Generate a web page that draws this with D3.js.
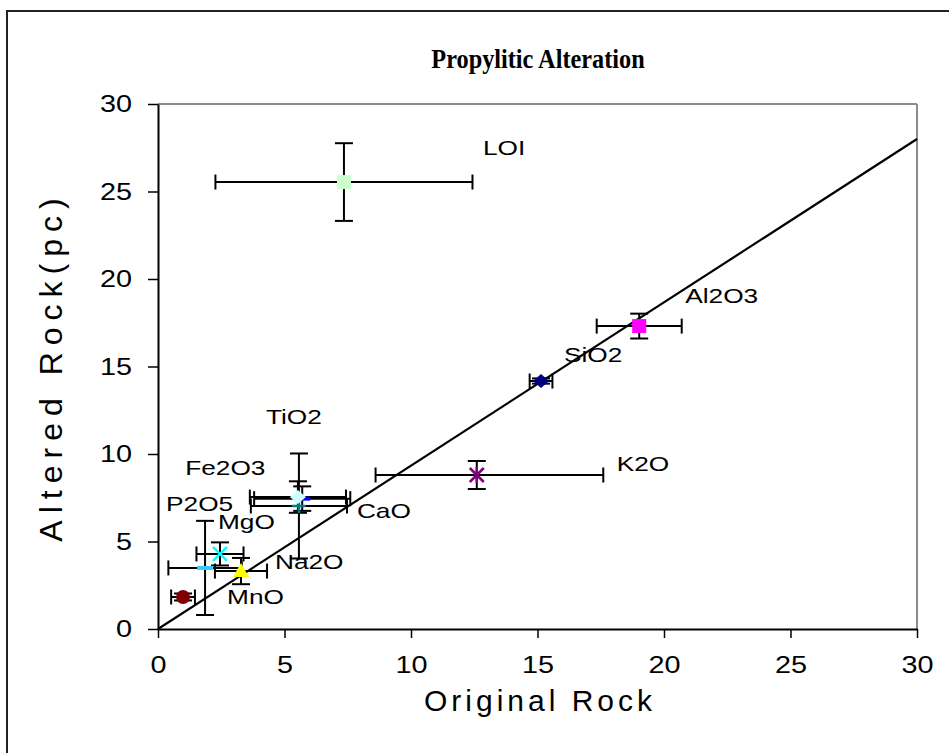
<!DOCTYPE html>
<html>
<head>
<meta charset="utf-8">
<style>
    body { margin: 0; background: #fff; }
    svg { display: block; }
    .tick text, .lbl {
        font-family: "Liberation Sans", Arial, sans-serif;
        fill: #000;
    }
    .stretch {
        transform-box: fill-box;
        transform: scaleX(1.2);
    }
    .y .tick text { transform-origin: right center; }
    .x .tick text { transform-origin: center center; }
    .lbl {
        transform-box: fill-box;
        transform-origin: left center;
        transform: scaleX(1.25);
    }
    .title {
        transform-box: fill-box;
        transform-origin: center center;
        transform: scaleX(0.9);
    }
</style>
</head>
<body>
<svg width="949" height="753"></svg>
<script src="https://d3js.org/d3.v7.min.js"></script>
<script>

// values (wt %)
const oxides    = ["SiO2", "Al2O3", "LOI", "K2O", "TiO2", "Fe2O3", "CaO", "P2O5", "MgO", "Na2O", "MnO"];
const original  = [15.14, 19.02, 7.35, 12.6, 5.57, 5.7, 5.53, 1.86, 2.45, 3.28, 0.99];
const altered   = [14.17, 17.31, 25.54, 8.8, 7.03, 7.45, 7.54, 3.49, 4.29, 3.31, 1.83];
const origErrLo = [0.45, 1.68, 5.08, 4.0, 1.9, 1.9, 1.9, 1.45, 0.93, 1.03, 0.47];
const origErrHi = [0.45, 1.68, 5.08, 5.0, 1.9, 1.9, 1.9, 1.45, 0.93, 1.03, 0.47];
const altErr    = [0.15, 0.71, 2.22, 0.8, 3.0, 0.7, 0.9, 2.69, 0.66, 0.75, 0.2];

// reference (isocon) line end points
const isoconX = [0, 30];
const isoconY = [0, 28];

const xTicks = [0, 5, 10, 15, 20, 25, 30];
const yTicks = [0, 5, 10, 15, 20, 25, 30];

// marker look for each oxide
const markerStyle = {
    SiO2:  { shape: "diamond",  color: "#000080" },
    Al2O3: { shape: "square",   color: "#ff00ff" },
    LOI:   { shape: "square",   color: "#ccffcc" },
    K2O:   { shape: "asterisk", color: "#800080" },
    TiO2:  { shape: "plus",     color: "#008080" },
    Fe2O3: { shape: "dash",     color: "#0000ff" },
    CaO:   { shape: "diamond",  color: "#ccffff" },
    P2O5:  { shape: "dash",     color: "#33ccff" },
    MgO:   { shape: "x",        color: "#00ffff" },
    Na2O:  { shape: "triangle", color: "#ffff00" },
    MnO:   { shape: "circle",   color: "#800000" }
};

// label offsets from the marker, px
const labelOffset = {
    SiO2: [23, -19], Al2O3: [46, -23], LOI: [139, -27], K2O: [140, -4],
    TiO2: [-33, -82], Fe2O3: [-117, -24], CaO: [59, 21], P2O5: [-39, -57],
    MgO: [-2, -25], Na2O: [34, -2], MnO: [44, 7]
};

const svg = d3.select("svg");

// outer frame (runs off the page right and bottom)
svg.append("rect")
    .attr("x", 7).attr("y", 11)
    .attr("width", 980).attr("height", 780)
    .style("fill", "none")
    .style("stroke", "#222")
    .style("stroke-width", 2);

const x = d3.scaleLinear().domain([0, 30]).range([158, 917]);
const y = d3.scaleLinear().domain([0, 30]).range([629, 104]);

// gray top and right plot borders
svg.append("line")
    .attr("x1", x(0)).attr("x2", x(30)).attr("y1", y(30)).attr("y2", y(30))
    .style("stroke", "#8c8c8c").style("stroke-width", 2);
svg.append("line")
    .attr("x1", x(30)).attr("x2", x(30)).attr("y1", y(30)).attr("y2", y(0))
    .style("stroke", "#8c8c8c").style("stroke-width", 2);

const xAxis = svg.append("g")
    .attr("class", "x axis")
    .attr("transform", `translate(0,${y(0)})`)
    .call(d3.axisBottom(x).tickValues(xTicks).tickSize(9).tickPadding(18).tickSizeOuter(0));

const yAxis = svg.append("g")
    .attr("class", "y axis")
    .attr("transform", `translate(${x(0)},0)`)
    .call(d3.axisLeft(y).tickValues(yTicks).tickSize(10).tickPadding(16).tickSizeOuter(0));

svg.selectAll(".axis .domain").style("stroke", "#000").style("stroke-width", 2);
svg.selectAll(".axis .tick line").style("stroke", "#000").style("stroke-width", 1.5);
svg.selectAll(".axis .tick text")
    .attr("class", "stretch")
    .style("font-size", "24px");

// isocon line
svg.append("line")
    .attr("x1", x(isoconX[0])).attr("y1", y(isoconY[0]))
    .attr("x2", x(isoconX[1])).attr("y2", y(isoconY[1]))
    .style("stroke", "#000")
    .style("stroke-width", 2.2);

const points = oxides.map((name, i) => ({
    name: name,
    ox: original[i],
    ay: altered[i],
    xlo: origErrLo[i],
    xhi: origErrHi[i],
    ye: altErr[i]
}));

// error bars
const capV = 7.5, capH = 9;
const bars = svg.append("g")
    .style("stroke", "#000")
    .style("stroke-width", 2)
    .style("fill", "none");

points.forEach(d => {
    let cy = y(d.ay), cx = x(d.ox);
    let x1 = x(d.ox - d.xlo), x2 = x(d.ox + d.xhi);
    bars.append("line").attr("x1", x1).attr("x2", x2).attr("y1", cy).attr("y2", cy);
    bars.append("line").attr("x1", x1).attr("x2", x1).attr("y1", cy - capV).attr("y2", cy + capV);
    bars.append("line").attr("x1", x2).attr("x2", x2).attr("y1", cy - capV).attr("y2", cy + capV);
    let y1 = y(d.ay - d.ye), y2 = y(d.ay + d.ye);
    bars.append("line").attr("x1", cx).attr("x2", cx).attr("y1", y1).attr("y2", y2);
    bars.append("line").attr("x1", cx - capH).attr("x2", cx + capH).attr("y1", y1).attr("y2", y1);
    bars.append("line").attr("x1", cx - capH).attr("x2", cx + capH).attr("y1", y2).attr("y2", y2);
});

// markers
function markerPath(shape) {
    const p = d3.path();
    if (shape === "square") {
        p.rect(-7, -7, 14, 14);
    } else if (shape === "diamond") {
        p.moveTo(0, -7); p.lineTo(8, 0); p.lineTo(0, 7); p.lineTo(-8, 0); p.closePath();
    } else if (shape === "triangle") {
        p.moveTo(0, -8); p.lineTo(8, 6); p.lineTo(-8, 6); p.closePath();
    } else if (shape === "circle") {
        p.arc(0, 0, 7, 0, 2 * Math.PI);
    } else if (shape === "x") {
        p.moveTo(-7, -7); p.lineTo(7, 7); p.moveTo(7, -7); p.lineTo(-7, 7);
    } else if (shape === "asterisk") {
        p.moveTo(-7, -7); p.lineTo(7, 7); p.moveTo(7, -7); p.lineTo(-7, 7);
        p.moveTo(0, -8); p.lineTo(0, 8);
    } else if (shape === "plus") {
        p.moveTo(-7, 0); p.lineTo(7, 0); p.moveTo(0, -7); p.lineTo(0, 7);
    } else if (shape === "dash") {
        p.rect(-8, -2, 16, 4);
    }
    return p.toString();
}

const strokeShapes = ["x", "asterisk", "plus"];

svg.append("g")
    .selectAll("path")
    .data(points)
    .join("path")
    .attr("transform", d => `translate(${x(d.ox)},${y(d.ay)})`)
    .attr("d", d => markerPath(markerStyle[d.name].shape))
    .style("fill", d => strokeShapes.includes(markerStyle[d.name].shape) ? "none" : markerStyle[d.name].color)
    .style("stroke", d => strokeShapes.includes(markerStyle[d.name].shape) ? markerStyle[d.name].color : "none")
    .style("stroke-width", 2.5);

// point labels
svg.append("g")
    .selectAll("text")
    .data(points)
    .join("text")
    .attr("class", "lbl")
    .attr("x", d => x(d.ox) + labelOffset[d.name][0])
    .attr("y", d => y(d.ay) + labelOffset[d.name][1])
    .style("font-size", "21px")
    .text(d => d.name);

// titles
svg.append("text")
    .attr("class", "title")
    .attr("x", 538).attr("y", 68)
    .attr("text-anchor", "middle")
    .style("font-family", "'Liberation Serif', 'Times New Roman', serif")
    .style("font-weight", "bold")
    .style("font-size", "27px")
    .text("Propylitic Alteration");

svg.append("text")
    .attr("x", 540).attr("y", 711)
    .attr("text-anchor", "middle")
    .style("font-family", "'Liberation Sans', Arial, sans-serif")
    .style("font-size", "30px")
    .style("letter-spacing", "4px")
    .text("Original Rock");

svg.append("text")
    .attr("transform", `translate(62,${(y(0) + y(30)) / 2}) rotate(-90)`)
    .attr("text-anchor", "middle")
    .style("font-family", "'Liberation Sans', Arial, sans-serif")
    .style("font-size", "32px")
    .style("letter-spacing", "7px")
    .text("Altered Rock(pc)");

</script>
</body>
</html>
